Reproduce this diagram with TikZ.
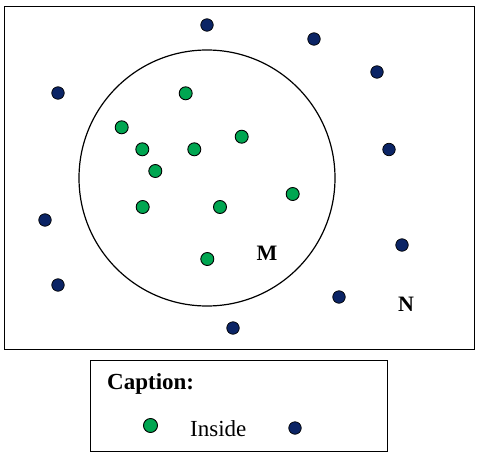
\documentclass[tikz,border=0pt]{standalone}
\usepackage{fontspec}
\setmainfont{Liberation Serif}
\definecolor{ingreen}{HTML}{00A651}
\definecolor{outblue}{HTML}{0B2465}
\tikzset{
  gdot/.style={circle, draw=black, line width=0.9pt, fill=ingreen, minimum size=13pt, inner sep=0pt},
  bdot/.style={circle, draw=black, line width=0.7pt, fill=outblue, minimum size=12.5pt, inner sep=0pt},
  lbl/.style={font=\fontsize{22}{24}\selectfont\bfseries, inner sep=0pt}
}
\begin{document}
\begin{tikzpicture}[x=1pt,y=-1pt]
\useasboundingbox (0,0) rectangle (477,458);
\node[draw=black, line width=1pt, minimum width=470pt, minimum height=343pt, inner sep=0pt] (frame) at (239,177.5) {};
\node[draw=black, line width=1.2pt, circle, minimum size=256pt, inner sep=0pt] (M) at (207,178) {};
% inside
\node[gdot] (g1) at (185.7,93.3) {};
\node[gdot] (g2) at (121.7,127.3) {};
\node[gdot] (g3) at (142.3,149.3) {};
\node[gdot] (g4) at (194.3,149.3) {};
\node[gdot] (g5) at (241.7,136.7) {};
\node[gdot] (g6) at (155.3,171) {};
\node[gdot] (g7) at (142.7,207) {};
\node[gdot] (g8) at (220,207) {};
\node[gdot] (g9) at (292.7,194) {};
\node[gdot] (g10) at (207.3,259) {};
% outside
\node[bdot] (b1) at (207,25) {};
\node[bdot] (b2) at (314,39) {};
\node[bdot] (b3) at (377,72) {};
\node[bdot] (b4) at (58,93) {};
\node[bdot] (b5) at (389,149.5) {};
\node[bdot] (b6) at (45,220) {};
\node[bdot] (b7) at (402,245) {};
\node[bdot] (b8) at (58,285) {};
\node[bdot] (b9) at (339,297) {};
\node[bdot] (b10) at (233,328) {};
\node[lbl] (mlbl) at (267,253.5) {M};
\node[lbl] (nlbl) at (406,304) {N};
% legend
\node[draw=black, line width=1pt, minimum width=297pt, minimum height=91pt, inner sep=0pt] (legend) at (238.5,405.5) {};
\node[font=\fontsize{23}{25}\selectfont\bfseries, anchor=base west, inner sep=0pt] (cap) at (107,389) {Caption:};
\node[gdot, minimum size=14pt] (lg) at (150.5,425.5) {};
\node[font=\fontsize{23}{25}\selectfont, anchor=base west, inner sep=0pt] (ins) at (190,436) {Inside};
\node[bdot] (lb) at (295,428) {};
\end{tikzpicture}
\end{document}
